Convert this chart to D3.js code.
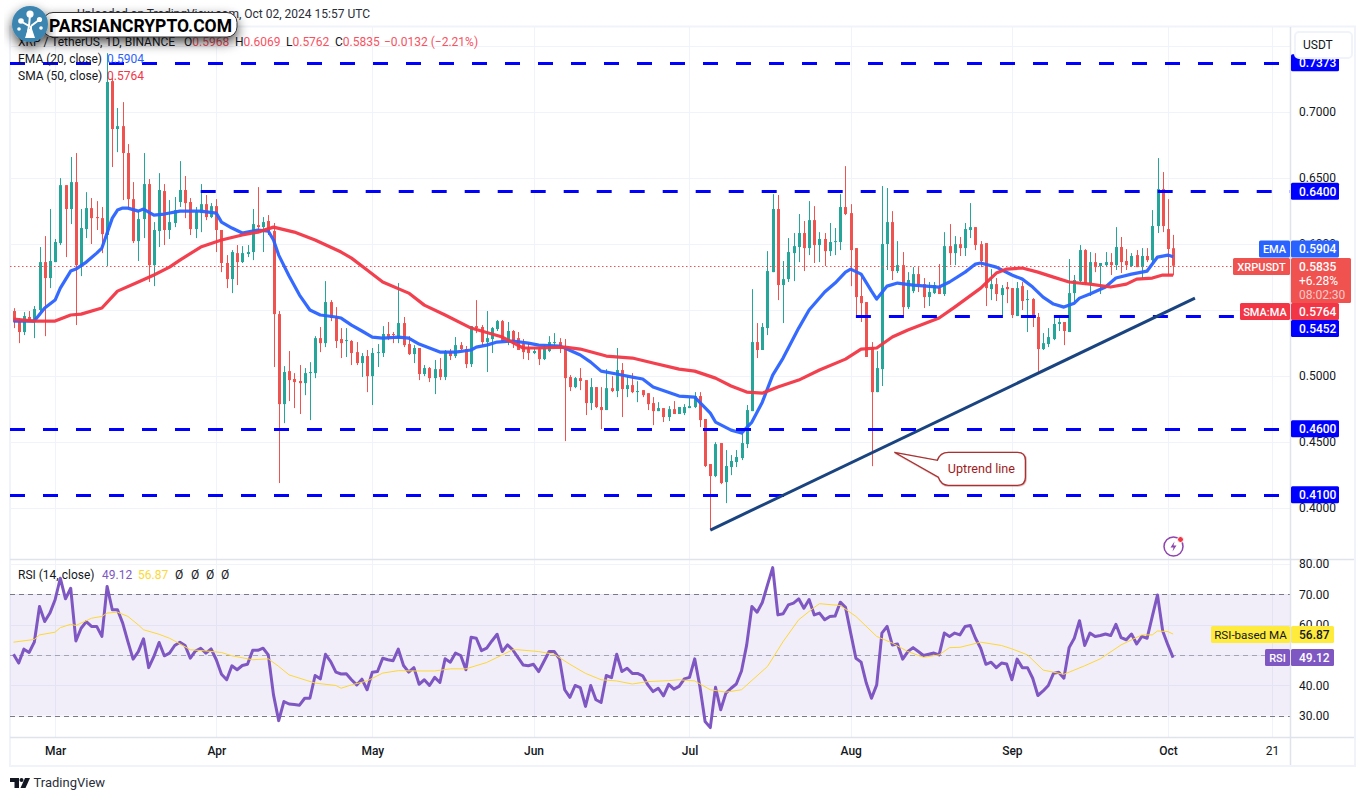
<!DOCTYPE html>
<html>
<head>
<meta charset="utf-8">
<script src="https://cdn.jsdelivr.net/npm/d3@7"></script>
<style>
  html, body { margin: 0; padding: 0; background: #fff; }
  svg { display: block; }
  text { font-family: Roboto, "Open Sans", sans-serif; }
</style>
</head>
<body>
<svg id="chart" width="1366" height="800"></svg>
<script>
// daily bars from Feb 22 2024 (bar 0) to Oct 02 2024 (bar 223)
const opens = [
  .5492,.5409,.5333,.5447,.5409,.5500,.5863,.5742,.5863,.6007,
  .6446,.6265,.6469,.5840,.6113,.6272,.6204,.6196,.6068,.7234,
  .6871,.6893,.6689,.6340,.6022,.6189,.6454,.5840,.6098,.6401,
  .6106,.6159,.6318,.6409,.6318,.6113,.6234,.6302,.6204,.6287,
  .6106,.5856,.5734,.5931,.5863,.5924,.5939,.6143,.6128,.6174,
  .6098,.5469,.4787,.5037,.4977,.4962,.4946,.5022,.5022,.5287,
  .5249,.5560,.5447,.5280,.5265,.5265,.5181,.5098,.5151,.4999,
  .5174,.5174,.5318,.5318,.5287,.5401,.5242,.5166,.5212,.5015,
  .5060,.4984,.5052,.4992,.5189,.5151,.5234,.5204,.5090,.5378,
  .5371,.5257,.5280,.5356,.5416,.5265,.5341,.5287,.5242,.5204,
  .5174,.5204,.5128,.5189,.5249,.5257,.5219,.4992,.4916,.4984,
  .4969,.4795,.4916,.4765,.4742,.4908,.4886,.5045,.4901,.4931,
  .4878,.4893,.4870,.4795,.4734,.4757,.4689,.4749,.4712,.4719,
  .4757,.4765,.4848,.4674,.4333,.4242,.4492,.4196,.4310,.4348,
  .4378,.4484,.4734,.5257,.5197,.5363,.5787,.6265,.5689,.5734,
  .5931,.5977,.6083,.5969,.6181,.5992,.6038,.5946,.6015,.6015,
  .6280,.6234,.5969,.5606,.5560,.5219,.4878,.5052,.6000,.6166,
  .5795,.5840,.5522,.5643,.5772,.5696,.5598,.5628,.5666,.5621,
  .5984,.5931,.5999,.5969,.6106,.6128,.5999,.6007,.5658,.5696,
  .5613,.5674,.5666,.5454,.5681,.5575,.5583,.5447,.5204,.5242,
  .5280,.5394,.5409,.5333,.5628,.5719,.5954,.5704,.5863,.5833,
  .5840,.5863,.5840,.5977,.5871,.5833,.5916,.5825,.5909,.5878,
  .6136,.6416,.6113,.5968
];
const highs = [
  .5514,.5439,.5484,.5492,.5530,.5977,.6060,.6265,.6038,.6499,
  .6446,.6659,.6689,.6265,.6393,.6348,.6325,.6280,.7446,.7257,
  .7030,.7075,.6757,.6469,.6257,.6689,.6492,.6166,.6537,.6454,
  .6333,.6356,.6628,.6515,.6348,.6280,.6454,.6371,.6310,.6340,
  .6106,.5916,.5954,.5992,.5984,.5992,.6265,.6431,.6204,.6219,
  .6159,.5492,.5075,.5189,.5022,.5083,.5060,.5105,.5302,.5371,
  .5719,.5575,.5522,.5363,.5363,.5272,.5257,.5174,.5197,.5212,
  .5242,.5378,.5409,.5333,.5704,.5447,.5302,.5234,.5212,.5083,
  .5068,.5121,.5136,.5197,.5204,.5295,.5257,.5227,.5378,.5575,
  .5386,.5492,.5371,.5424,.5424,.5409,.5348,.5333,.5280,.5249,
  .5219,.5219,.5234,.5302,.5325,.5287,.5280,.5007,.4992,.5060,
  .4969,.4984,.4916,.4916,.5052,.4999,.5212,.5098,.4999,.5022,
  .4961,.4893,.4870,.4840,.4802,.4757,.4772,.4810,.4765,.4787,
  .4833,.4878,.4878,.4674,.4333,.4499,.4492,.4439,.4401,.4439,
  .4575,.4780,.5658,.5401,.5401,.5946,.6378,.6371,.5871,.6045,
  .6083,.6227,.6174,.6325,.6287,.6090,.6083,.6159,.6121,.6378,
  .6590,.6302,.5969,.5749,.5560,.5257,.5189,.6439,.6424,.6249,
  .6022,.5939,.5787,.5825,.5825,.5742,.5712,.5712,.5848,.6090,
  .6151,.6060,.6053,.6159,.6310,.6128,.6022,.6007,.5810,.5742,
  .5689,.5712,.5666,.5712,.5712,.5651,.5590,.5477,.5325,.5363,
  .5439,.5439,.5409,.5886,.5765,.5992,.5961,.5939,.5931,.5856,
  .5939,.5931,.6128,.6053,.5961,.5931,.5954,.5969,.5969,.6257,
  .6651,.6545,.6340,.6069
];
const lows = [
  .5363,.5249,.5310,.5409,.5287,.5484,.5302,.5666,.5863,.5992,
  .5901,.6151,.5386,.5757,.6045,.6000,.6106,.5931,.5833,.6583,
  .6696,.6333,.6272,.6007,.5871,.6045,.5712,.5681,.5977,.5992,
  .6038,.6128,.6280,.6196,.6068,.6045,.6090,.6181,.6196,.5939,
  .5787,.5666,.5628,.5689,.5856,.5901,.5878,.6083,.5939,.6068,
  .5068,.4189,.4643,.4810,.4757,.4712,.4855,.4666,.4984,.5181,
  .5219,.5416,.5212,.5136,.5144,.5083,.5083,.4992,.4878,.4780,
  .5068,.5144,.5272,.5249,.5249,.5219,.5159,.5098,.4969,.4999,
  .4954,.4863,.4969,.4969,.5121,.5136,.5197,.5060,.5068,.5325,
  .5227,.5030,.5174,.5341,.5257,.5234,.5212,.5197,.5128,.5121,
  .5166,.5083,.5121,.5181,.5212,.5174,.4507,.4886,.4908,.4893,
  .4704,.4742,.4757,.4598,.4742,.4878,.4840,.4689,.4840,.4870,
  .4802,.4840,.4742,.4628,.4734,.4651,.4659,.4712,.4712,.4704,
  .4757,.4757,.4613,.4310,.3833,.4234,.4181,.4037,.4249,.4310,
  .4363,.4454,.4734,.5136,.5197,.5310,.5787,.5575,.5401,.5712,
  .5719,.5863,.5795,.5916,.5856,.5863,.5833,.5909,.5916,.5954,
  .6219,.5681,.5447,.5409,.5144,.4317,.4878,.4924,.5803,.5727,
  .5780,.5454,.5507,.5628,.5636,.5515,.5530,.5621,.5621,.5606,
  .5840,.5840,.5909,.5909,.6045,.5954,.5825,.5530,.5575,.5568,
  .5454,.5552,.5439,.5454,.5500,.5333,.5371,.5030,.5197,.5219,
  .5272,.5341,.5234,.5333,.5560,.5712,.5689,.5606,.5787,.5621,
  .5833,.5765,.5803,.5780,.5803,.5825,.5825,.5742,.5863,.5848,
  .6083,.6090,.5765,.5762
];
const closes = [
  .5409,.5333,.5454,.5416,.5507,.5863,.5742,.5871,.6015,.6446,
  .6265,.6469,.5840,.6121,.6272,.6196,.6196,.6075,.7227,.6871,
  .6893,.6689,.6340,.6022,.6189,.6454,.5840,.6106,.6409,.6106,
  .6166,.6257,.6409,.6310,.6113,.6242,.6302,.6204,.6287,.6106,
  .5856,.5734,.5939,.5863,.5931,.5939,.6151,.6128,.6166,.6098,
  .5469,.4787,.5030,.4969,.4954,.4946,.5022,.5030,.5287,.5249,
  .5560,.5439,.5265,.5249,.5272,.5174,.5098,.5151,.4999,.5174,
  .5181,.5318,.5287,.5310,.5401,.5234,.5166,.5212,.5015,.5060,
  .4984,.5052,.4992,.5189,.5151,.5234,.5204,.5090,.5378,.5363,
  .5257,.5287,.5363,.5416,.5265,.5341,.5242,.5197,.5181,.5174,
  .5189,.5128,.5212,.5257,.5257,.5212,.4984,.4916,.4984,.4962,
  .4795,.4916,.4765,.4742,.4908,.4886,.5045,.4901,.4931,.4878,
  .4886,.4855,.4787,.4734,.4757,.4689,.4749,.4712,.4765,.4765,
  .4772,.4848,.4666,.4318,.4242,.4484,.4189,.4318,.4356,.4386,
  .4492,.4742,.5257,.5197,.5371,.5795,.6265,.5689,.5734,.5939,
  .5984,.6083,.5969,.6181,.5992,.6038,.5946,.6015,.6022,.6280,
  .6227,.5954,.5598,.5552,.5144,.4878,.5060,.6000,.6166,.5795,
  .5840,.5522,.5727,.5772,.5696,.5598,.5636,.5689,.5621,.5984,
  .5931,.5999,.5969,.6113,.6128,.5992,.5871,.5666,.5696,.5621,
  .5666,.5658,.5462,.5666,.5568,.5583,.5439,.5204,.5249,.5295,
  .5394,.5409,.5341,.5628,.5727,.5954,.5704,.5863,.5825,.5856,
  .5863,.5840,.5977,.5863,.5840,.5909,.5825,.5909,.5878,.6136,
  .6416,.6136,.5962,.5835
];

// moving averages, read at the bends of each line
const emaDays = [0,4,6,8,9,11,12,14,16,17,18,19,20,21,22,24,25,27,29,32,36,39,40,42,44,47,49,50,51,53,55,57,59,62,
  63,65,67,69,71,74,76,78,80,82,85,88,89,91,93,96,99,101,105,106,109,111,113,116,119,121,123,128,
  131,134,135,138,140,142,144,146,148,151,153,156,158,160,161,163,165,166,168,170,173,178,180,183,185,186,
  189,192,194,196,198,200,202,204,205,207,210,212,215,218,220,222,223];
const emaValues = [.5416,.5416,.5515,.5575,.5666,.5795,.5810,.5863,.5931,.5969,.6083,.6196,.6257,.6272,.6272,.6249,.6265,.6219,.6227,.6249,.6249,.6234,.6166,.6121,.6083,.6106,.6098,.6030,.5916,.5757,.5613,.5500,.5462,.5447,
  .5439,.5386,.5341,.5295,.5287,.5295,.5287,.5242,.5212,.5181,.5181,.5197,.5219,.5234,.5257,.5265,.5249,.5234,.5227,.5212,.5159,.5105,.5037,.5015,.4992,.4977,.4916,.4848,
  .4840,.4719,.4651,.4590,.4568,.4651,.4802,.5007,.5136,.5363,.5500,.5636,.5704,.5787,.5810,.5772,.5643,.5583,.5681,.5704,.5689,.5674,.5712,.5787,.5848,.5856,
  .5825,.5765,.5734,.5674,.5598,.5545,.5522,.5552,.5590,.5621,.5674,.5742,.5772,.5795,.5901,.5916,.5904];
const smaDays = [0,4,8,11,13,17,20,24,27,30,32,36,40,44,47,50,54,58,63,65,68,71,76,79,83,88,94,98,101,106,109,114,119,123,128,
  131,135,138,141,144,147,151,155,160,163,166,169,172,178,181,186,189,191,194,197,200,203,207,211,214,216,219,221,223];
const smaValues = [.5431,.5416,.5416,.5462,.5469,.5515,.5643,.5712,.5765,.5825,.5878,.5977,.6030,.6068,.6090,.6128,.6090,.6030,.5939,.5893,.5803,.5712,.5628,.5537,.5462,.5363,.5295,.5212,.5212,.5219,.5204,.5151,.5136,.5098,.5052,
  .5037,.4984,.4924,.4878,.4870,.4916,.4969,.5045,.5128,.5204,.5212,.5295,.5348,.5439,.5522,.5666,.5780,.5810,.5818,.5787,.5749,.5712,.5696,.5674,.5696,.5734,.5742,.5765,.5764];

// RSI, one value per bar
const rsiValues = [
  50.2,47.3,51.9,50.8,54.2,66,61,63.8,68.2,75.3,68.5,72,54.6,58.8,61,59.4,59.4,56.1,72.6,64.9,
  64.9,60.5,54.4,48.6,51.1,55.3,45.8,49.5,54.1,49.7,50.6,53.1,54.2,53.1,48.9,51.3,52.2,50.6,52,48.4,
  43.6,41.8,46.4,45.1,46.5,46.9,51.5,51.5,52.2,50,36.8,28.3,34.6,33.8,33.6,33.4,35.7,35.7,43.2,42.1,
  50.2,47.8,44.3,43.7,43.8,41.8,40.1,42,38.5,44.3,44.5,48.9,48.4,48.1,51.9,46.5,44.3,45.8,40.3,41.8,
  39.9,42.6,40.9,48.7,47.6,50.6,49.8,45.1,55.8,55.5,51.4,52.2,54.6,56.8,51.1,53.3,51.7,49.2,46.7,46.4,
  46.9,44.5,47.8,51.1,51.1,48.7,38.5,36,39.9,39.2,33,39.9,35.2,34.3,43.2,42.5,50.2,44.5,45.6,43.9,
  43.9,43.1,40.1,37.9,39,36.5,40.3,38.7,39.6,42.1,42.6,48.7,39.6,28,26,39.3,31.9,37.4,39,40.4,
  44.7,53.3,66,64.1,67.3,73.1,78.8,63.2,63.6,66.5,67.1,68.5,65.4,68.3,63.2,63.8,61.6,62.7,62.8,67.4,
  65.7,57.2,48.9,47.6,40.7,35.7,40.1,57.2,59.4,53.3,53.6,48.6,51.1,52.4,51.1,49.8,50.2,50.6,50,57.2,
  56.1,57.2,56.6,59.4,59.7,55.5,52.2,46.9,47.6,45.8,47.3,47,41.8,48.6,45.8,45.8,42.3,36.6,38.1,39.9,
  43.9,44.3,42.3,52.4,55.5,61.3,53.1,57.2,56.1,56.4,56.9,56.4,60.1,55.7,55,56.9,53.6,56.1,55.5,62.7,
  69.8,57.9,53.3,49.12
];
const rsiMaDays = [0,4,5,8,9,11,12,15,17,18,20,22,24,25,28,30,31,34,37,40,42,46,49,51,53,58,62,63,65,68,71,74,77,81,84,87,91,94,
  96,97,101,104,107,110,113,116,119,122,126,128,131,134,137,140,145,148,151,154,155,159,162,166,169,172,175,178,180,
  182,186,190,192,195,198,202,206,209,213,217,219,220,222,223];
const rsiMaValues = [54.2,55.1,56.6,57.5,59,60.1,59.7,62.1,62.7,63.8,64.1,62.7,59.9,58.3,56.8,55.5,54.6,51.7,51.3,50.8,49.7,48.4,48.7,46.2,43.4,40.7,39.9,39,40.1,41.4,44,44.8,44.7,44.7,45.4,45.4,47.5,50,
  51.7,51.7,51.1,50.2,46.9,43.9,41.8,41.4,40.4,41.2,41.5,41.8,41.4,38.5,37.7,38.5,46.2,54.4,61.6,65.7,66.9,66.3,62.7,56.1,53.9,51.1,49.2,50,52.4,
  52.5,54.2,53.1,52,50,45,43.6,46.4,48.7,53.3,56.6,56.6,57.9,57.7,56.87];

// axis ticks
const priceTicks = [0.40, 0.45, 0.50, 0.55, 0.60, 0.65, 0.70];
const priceGrid = [0.40, 0.45, 0.50, 0.55, 0.60, 0.65, 0.70, 0.75];
const rsiTicks = [30, 40, 50, 60, 70, 80];
const monthDays = [8, 39, 69, 100, 130, 161, 192, 222, 242];
const monthLabels = ["Mar", "Apr", "May", "Jun", "Jul", "Aug", "Sep", "Oct", "21"];

// horizontal levels drawn by the author: price and first bar of the line
const levelPrices = [0.7373, 0.64, 0.5452, 0.46, 0.41];
const levelStartDays = [-1, 36, 162, -1, -1];

// uptrend line ends
const trendDays = [134, 227.2];
const trendPrices = [0.3833, 0.5590];

const lastPrice = 0.5835;
const emaLast = 0.5904;
const smaLast = 0.5764;
const rsiLast = 49.12;
const rsiMaLast = 56.87;

const upColor = "#26a69a";
const downColor = "#ef5350";
const emaColor = "#2962ff";
const smaColor = "#f23645";
const rsiColor = "#7e57c2";
const levelColor = "#0000ff";
const gridColor = "#f0f3fa";
const frameColor = "#e0e3eb";
const textColor = "#131722";

const paneLeft = 10, paneRight = 1290;
const mainTop = 27, mainBottom = 559, rsiBottom = 737, axisBottom = 765;

const svg = d3.select("#chart");
const x = d3.scaleLinear([0, 223], [13.5, 1173.1]);
const y = d3.scaleLinear([0.40, 0.70], [508, 112]);
const yRsi = d3.scaleLinear([30, 80], [715.5, 564]);

svg.append("rect").attr("width", 1366).attr("height", 800).attr("fill", "#fff");

const defs = svg.append("defs");
defs.append("clipPath").attr("id", "mainClip").append("rect")
  .attr("x", paneLeft).attr("y", mainTop).attr("width", paneRight - paneLeft).attr("height", mainBottom - mainTop);
defs.append("clipPath").attr("id", "rsiClip").append("rect")
  .attr("x", paneLeft).attr("y", mainBottom).attr("width", paneRight - paneLeft).attr("height", rsiBottom - mainBottom);
const shadow = defs.append("filter").attr("id", "logoShadow")
  .attr("x", "-20%").attr("y", "-60%").attr("width", "140%").attr("height", "260%");
shadow.append("feDropShadow").attr("dx", 0).attr("dy", 5).attr("stdDeviation", 6)
  .attr("flood-color", "#000").attr("flood-opacity", 0.7);
const noteShadow = defs.append("filter").attr("id", "noteShadow");
noteShadow.append("feDropShadow").attr("dx", 0.5).attr("dy", 0.5).attr("stdDeviation", 0.7)
  .attr("flood-color", "#a33").attr("flood-opacity", 0.6);

// frame
function makeFrame() {
  const frame = svg.append("g");
  frame.append("rect").attr("x", 9).attr("y", mainTop).attr("width", 2).attr("height", axisBottom - mainTop + 2).attr("fill", gridColor);
  frame.append("rect").attr("x", 9).attr("y", axisBottom).attr("width", 1346).attr("height", 2).attr("fill", gridColor);
  frame.append("rect").attr("x", 1354).attr("y", mainTop).attr("width", 2).attr("height", axisBottom - mainTop + 2).attr("fill", gridColor);
  frame.append("line").attr("x1", 9).attr("x2", 1356).attr("y1", mainTop - 0.5).attr("y2", mainTop - 0.5).attr("stroke", gridColor).attr("stroke-width", 2);
}

function makeGrid() {
  const grid = svg.append("g").attr("stroke", gridColor).attr("stroke-width", 1);
  grid.selectAll(".ph").data(priceGrid).enter().append("line")
    .attr("x1", paneLeft).attr("x2", paneRight)
    .attr("y1", d => Math.round(y(d)) + 0.5).attr("y2", d => Math.round(y(d)) + 0.5);
  grid.selectAll(".rh").data(rsiTicks).enter().append("line")
    .attr("x1", paneLeft).attr("x2", paneRight)
    .attr("y1", d => Math.round(yRsi(d)) + 0.5).attr("y2", d => Math.round(yRsi(d)) + 0.5);
  grid.selectAll(".v").data(monthDays).enter().append("line")
    .attr("x1", d => Math.round(x(d)) + 0.5).attr("x2", d => Math.round(x(d)) + 0.5)
    .attr("y1", mainTop).attr("y2", rsiBottom);
}

function makeCandles() {
  const g = svg.append("g").attr("clip-path", "url(#mainClip)");
  const bars = opens.map((o, i) => ({ i: i, o: o, h: highs[i], l: lows[i], c: closes[i] }));
  const color = d => (d.c >= d.o ? upColor : downColor);
  g.selectAll(".wick").data(bars).enter().append("rect")
    .attr("class", "wick")
    .attr("x", d => Math.round(x(d.i)))
    .attr("y", d => y(d.h))
    .attr("width", 1)
    .attr("height", d => y(d.l) - y(d.h))
    .attr("fill", color);
  g.selectAll(".body").data(bars).enter().append("rect")
    .attr("class", "body")
    .attr("x", d => Math.round(x(d.i)) - 1)
    .attr("y", d => y(Math.max(d.o, d.c)))
    .attr("width", 3)
    .attr("height", d => Math.max(1, Math.abs(y(d.o) - y(d.c))))
    .attr("fill", color);
}

function makeLine(parent, days, values, scale, color, width, opacity) {
  const line = d3.line().x((d, i) => x(days[i])).y(d => scale(d));
  parent.append("path")
    .attr("d", line(values))
    .attr("fill", "none")
    .attr("stroke", color)
    .attr("stroke-width", width)
    .attr("stroke-linejoin", "round")
    .attr("stroke-opacity", opacity);
}

function makeOverlays() {
  const g = svg.append("g").attr("clip-path", "url(#mainClip)");
  // last price dotted line
  g.append("line")
    .attr("x1", paneLeft).attr("x2", 1233)
    .attr("y1", Math.round(y(lastPrice)) + 0.5).attr("y2", Math.round(y(lastPrice)) + 0.5)
    .attr("stroke", downColor).attr("stroke-dasharray", "1.5 2.5");
  makeLine(g, emaDays, emaValues, y, emaColor, 3.2, 0.95);
  makeLine(g, smaDays, smaValues, y, smaColor, 3.2, 0.95);

  g.selectAll(".level").data(levelPrices).enter().append("line")
    .attr("class", "level")
    .attr("x1", (d, i) => x(levelStartDays[i]) + (levelStartDays[i] < 0 ? 1.7 : 0))
    .attr("x2", (d, i) => (i === 2 ? 1240 : paneRight))
    .attr("y1", d => Math.round(y(d)) + 0.5).attr("y2", d => Math.round(y(d)) + 0.5)
    .attr("stroke", levelColor).attr("stroke-width", 3).attr("stroke-dasharray", "15 18");

  const trend = d3.line().x((d, i) => x(trendDays[i])).y(d => y(d));
  g.append("path").attr("d", trend(trendPrices))
    .attr("stroke", "#1a4480").attr("stroke-width", 3).attr("fill", "none");
}

function makeNote() {
  // callout pinned to the price it points at
  const tipX = x(169.4), tipY = y(0.4422);
  const note = svg.append("g").attr("transform", `translate(${tipX},${tipY})`);
  note.append("path")
    .attr("d", "M0,0 L43,8 C45,2 49,0 54,0 L123,0 Q131,0 131,8 L131,25 Q131,33 123,33 L54,33 C49,33 46,31 44,25 Z")
    .attr("fill", "#fff").attr("stroke", "#a83232").attr("stroke-width", 1.3)
    .attr("filter", "url(#noteShadow)");
  note.append("text").attr("x", 87).attr("y", 20.5).attr("text-anchor", "middle")
    .attr("font-size", 12.6).attr("fill", "#a01c1c").text("Uptrend line");

  // flash icon
  const bolt = svg.append("g").attr("transform", "translate(1173.5,546.5)");
  bolt.append("circle").attr("r", 9.5).attr("fill", "#fff").attr("stroke", "#8e44ad").attr("stroke-width", 1.5);
  bolt.append("path").attr("d", "M1,-5 L-3,1 L0,1 L-1,5 L3,-1 L0,-1 Z").attr("fill", "#8e44ad");
  bolt.append("circle").attr("cx", 7).attr("cy", -7).attr("r", 3).attr("fill", "#f23645").attr("stroke", "#fff");
}

function makeRsi() {
  const g = svg.append("g").attr("clip-path", "url(#rsiClip)");
  g.append("rect")
    .attr("x", paneLeft).attr("width", paneRight - paneLeft)
    .attr("y", yRsi(70)).attr("height", yRsi(30) - yRsi(70))
    .attr("fill", rsiColor).attr("fill-opacity", 0.1);
  g.selectAll(".band").data([70, 50, 30]).enter().append("line")
    .attr("x1", paneLeft).attr("x2", paneRight)
    .attr("y1", d => Math.round(yRsi(d)) + 0.5).attr("y2", d => Math.round(yRsi(d)) + 0.5)
    .attr("stroke", "#787b86").attr("stroke-dasharray", "5 4")
    .attr("stroke-opacity", (d, i) => (i === 1 ? 0.6 : 1));
  makeLine(g, d3.range(rsiValues.length), rsiValues, yRsi, rsiColor, 3, 1);
  makeLine(g, rsiMaDays, rsiMaValues, yRsi, "#fdd835", 1, 1);
}

function makeAxes() {
  const lines = svg.append("g");
  lines.append("line").attr("x1", paneRight + 0.5).attr("x2", paneRight + 0.5).attr("y1", mainTop).attr("y2", axisBottom).attr("stroke", frameColor).attr("stroke-width", 1.5);
  lines.append("line").attr("x1", paneLeft).attr("x2", 1354).attr("y1", mainBottom + 0.5).attr("y2", mainBottom + 0.5).attr("stroke", frameColor).attr("stroke-width", 1.5);
  lines.append("line").attr("x1", paneLeft).attr("x2", 1354).attr("y1", rsiBottom + 0.5).attr("y2", rsiBottom + 0.5).attr("stroke", frameColor).attr("stroke-width", 1.5);

  const priceAxis = d3.axisRight(y).tickValues(priceTicks).tickSize(0).tickPadding(9).tickFormat(d3.format(".4f"));
  const rsiAxis = d3.axisRight(yRsi).tickValues(rsiTicks).tickSize(0).tickPadding(9).tickFormat(d3.format(".2f"));
  const timeAxis = d3.axisBottom(x).tickValues(monthDays).tickSize(0).tickPadding(9).tickFormat((d, i) => monthLabels[i]);

  const axes = [
    svg.append("g").attr("transform", `translate(${paneRight},0)`).call(priceAxis),
    svg.append("g").attr("transform", `translate(${paneRight},0)`).call(rsiAxis),
    svg.append("g").attr("transform", `translate(0,${rsiBottom})`).call(timeAxis)
  ];
  axes.forEach(a => {
    a.select(".domain").remove();
    a.selectAll("text").attr("font-size", 12).attr("font-family", "Roboto").attr("fill", textColor);
  });
  axes[2].selectAll("text").attr("font-weight", d => (d === 242 ? 400 : 500));
}

// one tag on the price scale: optional name on the left, value on the right
function makeTag(center, name, nameWidth, value, color, valueWidth, ink, nameStyle) {
  const h = 17, g = svg.append("g");
  const top = center - h / 2;
  if (name) {
    g.append("rect").attr("x", paneRight - nameWidth).attr("y", top).attr("width", nameWidth).attr("height", h).attr("fill", color).attr("rx", 1.5);
    g.append("text").attr("x", paneRight - nameWidth / 2).attr("y", center + 4)
      .attr("font-size", nameStyle[0]).attr("font-weight", nameStyle[1]).attr("text-anchor", "middle").attr("fill", ink).text(name);
  }
  g.append("rect").attr("x", paneRight + 1).attr("y", top).attr("width", valueWidth).attr("height", h).attr("fill", color).attr("rx", 1.5);
  g.append("text").attr("x", paneRight + 9).attr("y", center + 4.3)
    .attr("font-size", 12).attr("font-weight", 500).attr("fill", ink).text(value);
}

function makeTags() {
  const fmt = d3.format(".4f");
  const smallBold = [11, 500];
  makeTag(y(0.7373), null, 0, fmt(0.7373), levelColor, 48, "#fff");
  makeTag(y(0.64), null, 0, fmt(0.64), levelColor, 48, "#fff");
  makeTag(y(0.46), null, 0, fmt(0.46), levelColor, 48, "#fff");
  makeTag(y(0.41), null, 0, fmt(0.41), levelColor, 48, "#fff");
  makeTag(249, "EMA", 31, fmt(emaLast), emaColor, 48, "#fff", smallBold);
  makeTag(328.5, null, 0, fmt(0.5452), levelColor, 48, "#fff");
  makeTag(311.5, "SMA:MA", 50, fmt(smaLast), smaColor, 48, "#fff", smallBold);

  // last price block
  const g = svg.append("g");
  g.append("rect").attr("x", 1233).attr("y", 258).attr("width", 57).attr("height", 17).attr("fill", "#f0524f").attr("rx", 1.5);
  g.append("text").attr("x", 1261.5).attr("y", 270.5).attr("text-anchor", "middle").attr("font-size", 11).attr("font-weight", 500).attr("fill", "#fff").text("XRPUSDT");
  g.append("rect").attr("x", 1291).attr("y", 258).attr("width", 60).attr("height", 45).attr("fill", "#f0524f").attr("rx", 1.5);
  g.append("text").attr("x", 1299).attr("y", 271).attr("font-size", 12).attr("font-weight", 500).attr("fill", "#fff").text(fmt(lastPrice));
  g.append("text").attr("x", 1299).attr("y", 285).attr("font-size", 12).attr("fill", "#fff").text("+6.28%");
  g.append("text").attr("x", 1299).attr("y", 299).attr("font-size", 12).attr("fill", "#fff").attr("fill-opacity", 0.7).text("08:02:30");

  makeTag(634.5, "RSI-based MA", 79, rsiMaLast.toFixed(2), "#ffeb3b", 43, textColor, [11.6, 400]);
  makeTag(657.5, "RSI", 25, rsiLast.toFixed(2), rsiColor, 43, "#fff", smallBold);

  // unit button
  svg.append("rect").attr("x", 1295).attr("y", 32).attr("width", 57).attr("height", 26).attr("rx", 4)
    .attr("fill", "#fff").attr("stroke", gridColor).attr("stroke-width", 2);
  svg.append("text").attr("x", 1303).attr("y", 49).attr("font-size", 12).attr("fill", textColor).text("USDT");
}

function makeLegend() {
  const red = "#f7525f";
  const g = svg.append("g").attr("font-size", 12).attr("fill", textColor);
  g.append("text").attr("x", 370).attr("y", 18).attr("text-anchor", "end").attr("fill", "#2a2e39")
    .text("Uploaded on TradingView.com, Oct 02, 2024 15:57 UTC");

  const head = g.append("text").attr("x", 18).attr("y", 46);
  head.append("tspan").text("XRP / TetherUS, 1D, BINANCE");
  [["O", "0.5968", 184], ["H", "0.6069", 235], ["L", "0.5762", 286], ["C", "0.5835", 335]].forEach(p => {
    head.append("tspan").attr("x", p[2]).text(p[0]);
    head.append("tspan").attr("fill", red).text(p[1]);
  });
  head.append("tspan").attr("x", 384).attr("fill", red).text("\u22120.0132 (\u22122.21%)");

  const ema = g.append("text").attr("x", 18).attr("y", 63);
  ema.append("tspan").text("EMA (20, close)");
  ema.append("tspan").attr("x", 107).attr("fill", emaColor).text(d3.format(".4f")(emaLast));
  const sma = g.append("text").attr("x", 18).attr("y", 80);
  sma.append("tspan").text("SMA (50, close)");
  sma.append("tspan").attr("x", 107).attr("fill", smaColor).text(d3.format(".4f")(smaLast));

  const rsi = g.append("text").attr("x", 18).attr("y", 579);
  rsi.append("tspan").text("RSI (14, close)");
  rsi.append("tspan").attr("x", 102).attr("fill", rsiColor).text(rsiLast.toFixed(2));
  rsi.append("tspan").attr("x", 138).attr("fill", "#fdd835").text(rsiMaLast.toFixed(2));
  [175, 191, 206, 221].forEach(p => rsi.append("tspan").attr("x", p).text("\u00d8"));
}

function makeBranding() {
  // website badge over the top left corner
  const badge = svg.append("g");
  badge.append("rect").attr("x", 43).attr("y", 12.5).attr("width", 194).attr("height", 24.5).attr("rx", 10)
    .attr("fill", "#fff").attr("stroke", "#333").attr("filter", "url(#logoShadow)");
  badge.append("circle").attr("cx", 30).attr("cy", 24).attr("r", 18).attr("fill", "#3b85b0").attr("filter", "url(#logoShadow)");
  badge.append("text").attr("x", 49).attr("y", 31.5)
    .attr("font-family", "Liberation Sans").attr("font-weight", 700).attr("font-size", 17.5)
    .attr("textLength", 183).attr("lengthAdjust", "spacingAndGlyphs").attr("fill", "#000")
    .text("PARSIANCRYPTO.COM");
  const tree = badge.append("g").attr("fill", "#fff").attr("stroke", "#fff");
  tree.append("path").attr("d", "M27,37 L29,26 L22,22 M29,26 L30,15 M31,26 L39,20 M31,37 L31,26").attr("fill", "none").attr("stroke-width", 2);
  tree.append("path").attr("d", "M25,38 L35,38 L32,29 L28,29 Z").attr("stroke", "none");
  [[30, 14, 3.6], [21, 21, 2.8], [39.5, 19.5, 2.6], [19, 29, 1.8], [41, 28, 1.8]].forEach(c => {
    tree.append("circle").attr("cx", c[0]).attr("cy", c[1]).attr("r", c[2]).attr("stroke", "none");
  });

  // footer logo
  const foot = svg.append("g").attr("fill", "#131722");
  foot.append("path").attr("d", "M10,778 H19 V788 H14.5 V782 H10 Z");
  foot.append("circle").attr("cx", 21.5).attr("cy", 780).attr("r", 2);
  foot.append("path").attr("d", "M25,778 H30 L25.5,788 H20.5 Z");
  foot.append("text").attr("x", 33.5).attr("y", 787).attr("font-size", 13).attr("fill", "#2a2e39").text("TradingView");
}

makeFrame();
makeGrid();
makeCandles();
makeOverlays();
makeRsi();
makeAxes();
makeNote();
makeTags();
makeLegend();
makeBranding();
</script>
</body>
</html>
